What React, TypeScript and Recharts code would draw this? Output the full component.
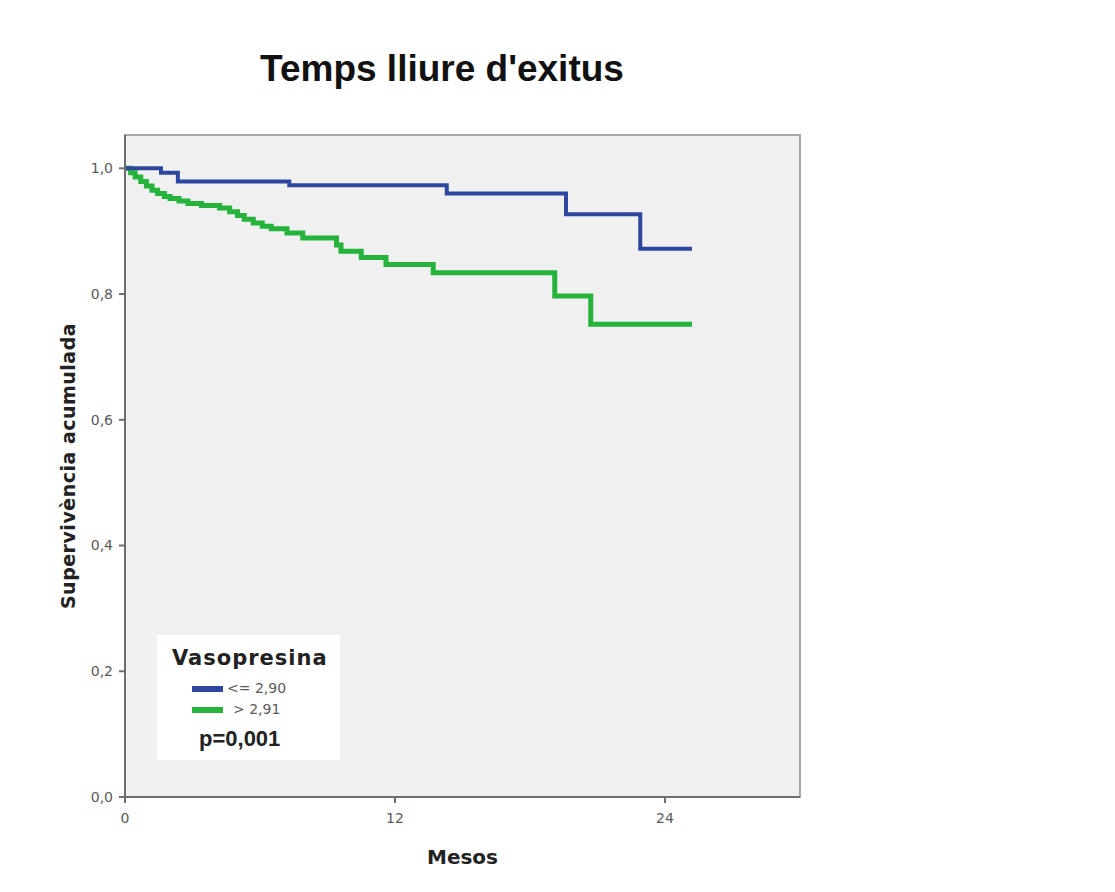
import { Line, LineChart, XAxis, YAxis } from "recharts";

// Corbes de Kaplan-Meier: temps (mesos) i supervivència acumulada
const BLUE_T = [0, 1.6, 2.35, 7.3, 14.3, 19.6, 22.9, 25.2];
const BLUE_S = [1.0, 0.993, 0.979, 0.973, 0.96, 0.927, 0.872, 0.872];

const GREEN_T = [
  0, 0.25, 0.45, 0.7, 0.95, 1.2, 1.45, 1.75, 2.0, 2.4, 2.8, 3.4, 4.2, 4.65, 5.0, 5.3,
  5.7, 6.1, 6.5, 7.2, 7.9, 9.4, 9.6, 10.5, 11.6, 13.7, 19.1, 20.7, 25.2,
];
const GREEN_S = [
  1.0, 0.993, 0.986, 0.979, 0.972, 0.965, 0.96, 0.955, 0.952, 0.948, 0.944, 0.941, 0.937,
  0.931, 0.925, 0.919, 0.913, 0.908, 0.904, 0.897, 0.889, 0.878, 0.868, 0.858, 0.847,
  0.834, 0.797, 0.752, 0.752,
];

const X_TICKS = [0, 12, 24];
const Y_TICKS = [0, 0.2, 0.4, 0.6, 0.8, 1.0];

const blueData = BLUE_T.map((t, i) => ({ t, s: BLUE_S[i] }));
const greenData = GREEN_T.map((t, i) => ({ t, s: GREEN_S[i] }));

const BLUE = "#2d479f";
const GREEN = "#25b33c";
const TICK = "#5a5a5a";
const SANS = "'Liberation Sans', Arial, sans-serif";
const WIDE = "'DejaVu Sans', Verdana, sans-serif";

const fmtComma = (v: number) => v.toFixed(1).replace(".", ",");

export default function App() {
  return (
    <div
      style={{
        position: "relative",
        width: 1115,
        height: 892,
        margin: -8,
        background: "#ffffff",
        fontFamily: SANS,
      }}
    >
      <div
        style={{
          position: "absolute",
          left: 0,
          width: 884,
          top: 48,
          textAlign: "center",
          fontSize: 37,
          fontWeight: "bold",
          color: "#111",
        }}
      >
        Temps lliure d'exitus
      </div>

      <LineChart
        width={1115}
        height={892}
        margin={{ top: 135, right: 315, bottom: 55, left: 65 }}
        style={{ position: "absolute", left: 0, top: 0 }}
      >
        <rect x={125} y={135} width={675} height={662} fill="#f0f0f0" stroke="#a8a8a8" strokeWidth={2} />
        <XAxis
          type="number"
          dataKey="t"
          domain={[0, 30]}
          ticks={X_TICKS}
          allowDataOverflow
          height={40}
          stroke="#6e6e6e"
          strokeWidth={2}
          tickSize={6}
          tick={{ fill: TICK, fontSize: 14, fontFamily: WIDE, dy: 8 }}
          label={{
            value: "Mesos",
            position: "insideBottom",
            offset: -27,
            fill: "#222",
            fontSize: 20,
            fontWeight: "bold",
            fontFamily: WIDE,
          }}
        />
        <YAxis
          type="number"
          dataKey="s"
          domain={[0, 1.053]}
          ticks={Y_TICKS}
          allowDataOverflow
          width={60}
          stroke="#6e6e6e"
          strokeWidth={2}
          tickSize={6}
          tickFormatter={fmtComma}
          tick={{ fill: TICK, fontSize: 14, fontFamily: WIDE, dx: -4 }}
          label={{
            value: "Supervivència acumulada",
            angle: -90,
            position: "insideLeft",
            offset: 3,
            style: { textAnchor: "middle" },
            fill: "#222",
            fontSize: 19,
            fontWeight: "bold",
            fontFamily: WIDE,
            letterSpacing: 0.5,
          }}
        />
        <Line
          data={greenData}
          dataKey="s"
          type="stepAfter"
          stroke={GREEN}
          strokeWidth={5}
          dot={false}
          isAnimationActive={false}
        />
        <Line
          data={blueData}
          dataKey="s"
          type="stepAfter"
          stroke={BLUE}
          strokeWidth={4}
          dot={false}
          isAnimationActive={false}
        />
      </LineChart>

      {/* Llegenda */}
      <div
        style={{
          position: "absolute",
          left: 157,
          top: 635,
          width: 183,
          height: 125,
          background: "#ffffff",
        }}
      >
        <div
          style={{
            position: "absolute",
            left: 15,
            top: 11,
            fontSize: 21,
            fontWeight: "bold",
            color: "#222",
            fontFamily: WIDE,
            letterSpacing: 1,
          }}
        >
          Vasopresina
        </div>
        <div style={{ position: "absolute", left: 35, top: 51, width: 31, height: 6, background: BLUE }} />
        <div style={{ position: "absolute", left: 70, top: 45, fontSize: 14, color: TICK, fontFamily: WIDE }}>
          {"<= 2,90"}
        </div>
        <div style={{ position: "absolute", left: 35, top: 72, width: 31, height: 6, background: GREEN }} />
        <div style={{ position: "absolute", left: 76, top: 66, fontSize: 14, color: TICK, fontFamily: WIDE }}>
          {"> 2,91"}
        </div>
        <div style={{ position: "absolute", left: 42, top: 91, fontSize: 22, fontWeight: "bold", color: "#222" }}>
          p=0,001
        </div>
      </div>
    </div>
  );
}
